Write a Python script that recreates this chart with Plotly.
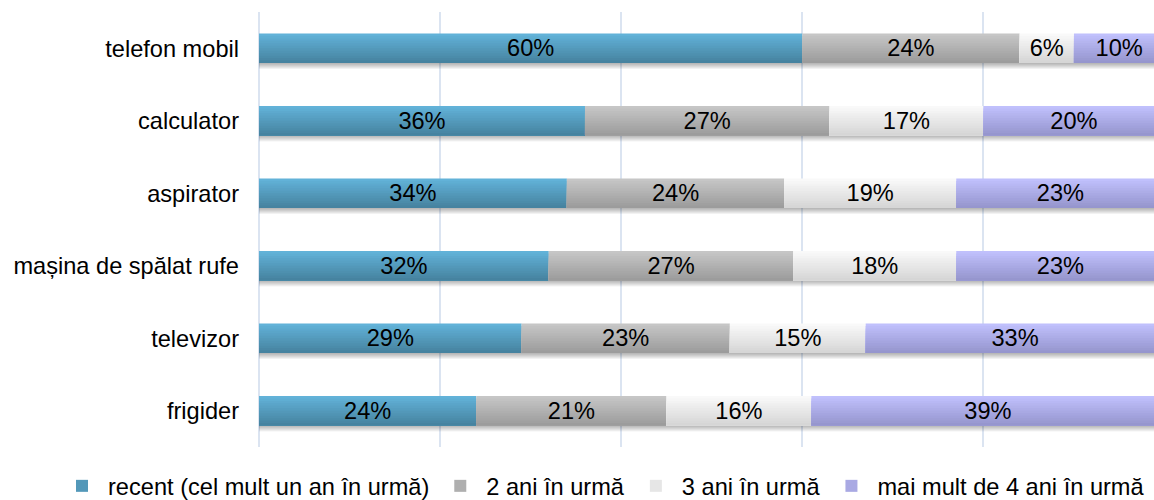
import numpy as np
import plotly.graph_objects as go

# Appliance categories, listed from top to bottom
categories = [
    "telefon mobil",
    "calculator",
    "aspirator",
    "mașina de spălat rufe",
    "televizor",
    "frigider",
]

# Share of respondents (%) by time since the appliance was bought
recent = [60, 36, 34, 32, 29, 24]
doi_ani = [24, 27, 24, 27, 23, 21]
trei_ani = [6, 17, 19, 18, 15, 16]
peste_patru = [10, 20, 23, 23, 33, 39]

series_names = [
    "recent (cel mult un an în urmă)",
    "2 ani în urmă",
    "3 ani în urmă",
    "mai mult de 4 ani în urmă",
]
series_values = [recent, doi_ani, trei_ani, peste_patru]

# Vertical gradient of each series: (top colour, bottom colour)
gradients = [
    ((98, 178, 216), (70, 131, 160)),
    ((198, 198, 198), (156, 156, 156)),
    ((249, 249, 249), (214, 214, 214)),
    ((192, 192, 252), (150, 150, 206)),
]

FONT = "Liberation Sans, Arial, sans-serif"
FS = 23.6
BAR_W = 0.407        # bar thickness in category units
N_BANDS = 12         # strips used to build the vertical gradient
PX = 1 / 72.4        # one pixel in category units
N_SHADOW = 6         # soft drop shadow under each bar

fig = go.Figure()

arrays = [np.array(v, float) for v in series_values]
bases = np.cumsum([np.zeros(len(categories))] + arrays[:-1], axis=0)
totals = np.sum(arrays, axis=0)

# Drop shadow: translucent layers that reach progressively lower
for j in range(N_SHADOW):
    fig.add_trace(go.Bar(
        y=categories,
        x=totals,
        base=np.zeros(len(categories)),
        orientation="h",
        offset=0,
        width=BAR_W / 2 + (j + 1) * PX,
        marker=dict(color="rgba(0,0,0,0.05)", line=dict(width=0)),
        showlegend=False,
        hoverinfo="skip",
    ))

# Gradient bars: each strip runs from its own top edge down to the bar bottom,
# later strips are painted over earlier ones
for name, vals, base, (c0, c1) in zip(series_names, arrays, bases, gradients):
    for k in range(N_BANDS):
        t = k / (N_BANDS - 1)
        rgb = tuple(int(round(a + (b - a) * t)) for a, b in zip(c0, c1))
        fig.add_trace(go.Bar(
            y=categories,
            x=vals,
            base=base,
            orientation="h",
            offset=-BAR_W / 2 + k * BAR_W / N_BANDS,
            width=BAR_W - k * BAR_W / N_BANDS,
            marker=dict(color="rgb(%d,%d,%d)" % rgb, line=dict(width=0)),
            name=name,
            legendgroup=name,
            showlegend=(k == N_BANDS // 2),
            hoverinfo="skip",
        ))

# Percentage labels, centred on each segment
for name, vals, base in zip(series_names, series_values, bases):
    fig.add_trace(go.Bar(
        y=categories,
        x=vals,
        base=base,
        orientation="h",
        width=BAR_W,
        offset=-BAR_W / 2,
        marker=dict(color="rgba(0,0,0,0)", line=dict(width=0)),
        text=[f"{v}%" for v in vals],
        textposition="inside",
        insidetextanchor="middle",
        textangle=0,
        constraintext="none",
        textfont=dict(family=FONT, size=FS, color="#000000"),
        legendgroup=name,
        showlegend=False,
        name=name,
    ))

fig.update_layout(
    width=1154,
    height=500,
    barmode="overlay",
    paper_bgcolor="white",
    plot_bgcolor="white",
    font=dict(family=FONT, size=FS, color="#000000"),
    margin=dict(l=259, r=0, t=12, b=53, autoexpand=False),
    xaxis=dict(
        range=[0, 98.84],
        dtick=20,
        showgrid=True,
        gridcolor="#dbe4f1",
        gridwidth=2,
        zeroline=True,
        zerolinecolor="#dbe4f1",
        zerolinewidth=2,
        showticklabels=False,
        showline=False,
        fixedrange=True,
    ),
    yaxis=dict(
        categoryorder="array",
        categoryarray=categories,
        autorange="reversed",
        showgrid=False,
        zeroline=False,
        showline=False,
        ticks="",
        ticklabelstandoff=19,
        tickfont=dict(family=FONT, size=FS, color="#000000"),
    ),
    legend=dict(
        orientation="h",
        xref="paper",
        yref="paper",
        x=(56 - 259) / 895,
        xanchor="left",
        y=(447 - 486) / 435,
        yanchor="middle",
        itemwidth=42,
        font=dict(family=FONT, size=FS, color="#000000"),
        traceorder="normal",
        bgcolor="rgba(0,0,0,0)",
    ),
    showlegend=True,
)

fig.write_html("out.html")
